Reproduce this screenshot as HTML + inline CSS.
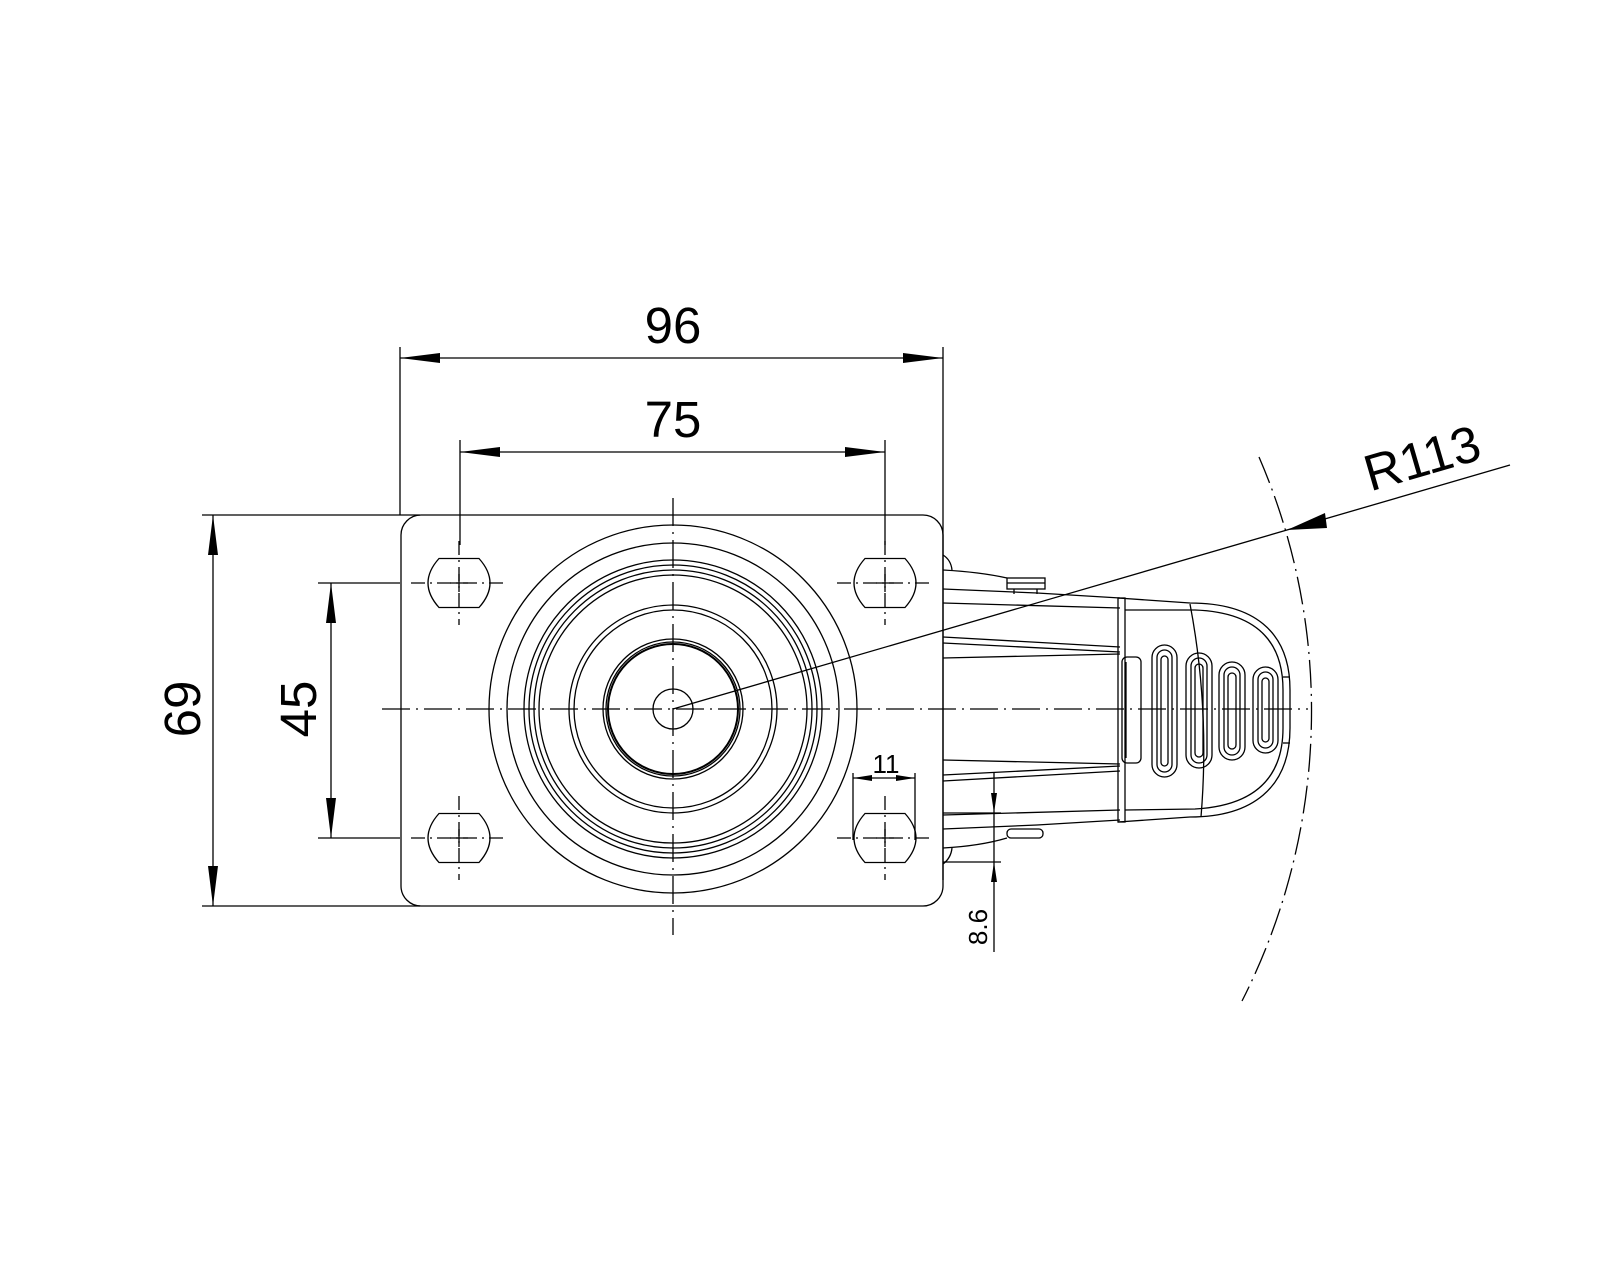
<!DOCTYPE html>
<html><head><meta charset="utf-8"><style>
html,body{margin:0;padding:0;background:#fff;}
svg{display:block;}
text{font-family:"Liberation Sans",sans-serif;fill:#000;}
</style></head><body>
<svg width="1600" height="1280" viewBox="0 0 1600 1280" xmlns="http://www.w3.org/2000/svg">
<defs>
<g id="hole">
<path d="M-20,-24.5 L20,-24.5 Q42,0 20,24.5 L-20,24.5 Q-42,0 -20,-24.5 Z" fill="none" stroke="#000" stroke-width="1.3"/>
<line x1="-48" y1="0" x2="48" y2="0" stroke="#000" stroke-width="1.3" stroke-dasharray="14,5,2,5"/>
<line x1="0" y1="-42" x2="0" y2="42" stroke="#000" stroke-width="1.3" stroke-dasharray="14,5,2,5"/>
<line x1="-9" y1="0" x2="9" y2="0" stroke="#000" stroke-width="1.3"/>
<line x1="0" y1="-9" x2="0" y2="9" stroke="#000" stroke-width="1.3"/>
</g>
</defs>
<g fill="none" stroke="#000" stroke-width="1.3">
<!-- plate -->
<rect x="401" y="515" width="542" height="391" rx="20" ry="20"/>
<!-- circles -->
<circle cx="673" cy="709" r="184"/>
<circle cx="673" cy="709" r="166"/>
<circle cx="673" cy="709" r="149"/>
<circle cx="673" cy="709" r="144"/>
<circle cx="673" cy="709" r="139"/>
<circle cx="673" cy="709" r="134"/>
<circle cx="673" cy="709" r="104"/>
<circle cx="673" cy="709" r="99"/>
<circle cx="673" cy="709" r="70"/>
<circle cx="673" cy="709" r="67"/>
<circle cx="673" cy="709" r="65" stroke-width="2"/>
<circle cx="673" cy="709" r="20"/>
<!-- center lines -->
<line x1="382" y1="709" x2="1308" y2="709" stroke-dasharray="28,6,2,6"/>
<line x1="673" y1="498" x2="673" y2="935" stroke-dasharray="28,6,2,6"/>
<!-- R113 arc -->
<path d="M1259,457 A640,640 0 0 1 1242,1001" stroke-dasharray="28,6,2,6"/>
<!-- radius leader -->
<line x1="673" y1="709" x2="1510" y2="465"/>
<!-- bracket -->
<line x1="943" y1="540" x2="943" y2="880"/>
<path d="M943,555 Q951,560 952,570"/>
<path d="M943,570 Q980,572 1007,578"/>
<rect x="1007" y="578" width="38" height="11"/>
<line x1="1007" y1="583" x2="1045" y2="583"/>
<line x1="1014" y1="589" x2="1014" y2="594"/>
<line x1="1037" y1="589" x2="1037" y2="594"/>
<path d="M943,589 L1037,593 L1120,598"/>
<line x1="943" y1="603" x2="1120" y2="608"/>
<line x1="943" y1="637" x2="1120" y2="647"/>
<line x1="943" y1="643" x2="1120" y2="652"/>
<line x1="943" y1="658" x2="1120" y2="654"/>
<line x1="943" y1="760" x2="1120" y2="764"/>
<line x1="943" y1="775" x2="1120" y2="766"/>
<line x1="943" y1="781" x2="1120" y2="771"/>
<line x1="943" y1="815" x2="1120" y2="810"/>
<path d="M943,829 L1037,825 L1120,820"/>
<path d="M943,848 Q980,846 1007,838"/>
<rect x="1007" y="829" width="36" height="9" rx="4"/>
<path d="M943,864 Q951,858 952,848"/>
<!-- band -->
<rect x="1118" y="598" width="7" height="224"/>
<rect x="1122" y="657" width="19" height="106" rx="5"/>
<line x1="1126" y1="662" x2="1126" y2="758"/>
<!-- nose -->
<path d="M1118,598 L1190,603 C1252,603 1290,630 1290,690 L1290,728 C1290,788 1252,817 1190,817 L1118,822"/>
<path d="M1125,610 L1195,610 C1250,612 1283,636 1283,690 L1283,728 C1283,782 1250,806 1195,809 L1125,810"/>
<path d="M1190,604 Q1210,709 1201,817"/>
<line x1="1283" y1="677" x2="1290" y2="677"/>
<line x1="1283" y1="743" x2="1290" y2="743"/>
<!-- slots -->
<rect x="1152" y="645" width="25" height="132" rx="12.5"/>
<rect x="1157" y="650" width="15" height="122" rx="7.5"/>
<rect x="1161" y="656" width="7" height="110" rx="3.5"/>
<rect x="1186" y="653" width="26" height="115" rx="13"/>
<rect x="1191" y="658" width="16" height="105" rx="8"/>
<rect x="1195" y="664" width="8" height="93" rx="4"/>
<rect x="1219" y="662" width="26" height="98" rx="13"/>
<rect x="1224" y="667" width="16" height="88" rx="8"/>
<rect x="1228" y="673" width="8" height="76" rx="4"/>
<rect x="1253" y="667" width="25" height="86" rx="12.5"/>
<rect x="1258" y="672" width="15" height="76" rx="7.5"/>
<rect x="1262" y="678" width="7" height="64" rx="3.5"/>
<!-- dimension lines -->
<line x1="400" y1="347" x2="400" y2="515"/>
<line x1="943" y1="347" x2="943" y2="540"/>
<line x1="400" y1="358" x2="943" y2="358"/>
<line x1="460" y1="440" x2="460" y2="545"/>
<line x1="885" y1="440" x2="885" y2="545"/>
<line x1="460" y1="452" x2="885" y2="452"/>
<line x1="202" y1="515" x2="420" y2="515"/>
<line x1="202" y1="906" x2="420" y2="906"/>
<line x1="213" y1="515" x2="213" y2="906"/>
<line x1="318" y1="583" x2="400" y2="583"/>
<line x1="318" y1="838" x2="400" y2="838"/>
<line x1="331" y1="583" x2="331" y2="838"/>
<line x1="853" y1="773" x2="853" y2="840"/>
<line x1="915" y1="773" x2="915" y2="840"/>
<line x1="853" y1="778" x2="915" y2="778"/>
<line x1="943" y1="813" x2="1001" y2="813"/>
<line x1="943" y1="862" x2="1001" y2="862"/>
<line x1="994" y1="773" x2="994" y2="952"/>
</g>
<use href="#hole" x="459" y="583"/>
<use href="#hole" x="885" y="583"/>
<use href="#hole" x="459" y="838"/>
<use href="#hole" x="885" y="838"/>
<g fill="#000">
<polygon points="400,358 440,353 440,363"/>
<polygon points="943,358 903,353 903,363"/>
<polygon points="460,452 500,447 500,457"/>
<polygon points="885,452 845,447 845,457"/>
<polygon points="213,515 208,555 218,555"/>
<polygon points="213,906 208,866 218,866"/>
<polygon points="331,583 326,623 336,623"/>
<polygon points="331,838 326,798 336,798"/>
<polygon points="853,778 872,775 872,781"/>
<polygon points="915,778 896,775 896,781"/>
<polygon points="994,813 991,793 997,793"/>
<polygon points="994,862 991,882 997,882"/>
<polygon points="1287,530 1325,513 1327,528"/>
</g>
<g>
<text x="673" y="343" font-size="51" text-anchor="middle">96</text>
<text x="673" y="437" font-size="51" text-anchor="middle">75</text>
<text transform="translate(200,709) rotate(-90)" x="0" y="0" font-size="51" text-anchor="middle">69</text>
<text transform="translate(316,709) rotate(-90)" x="0" y="0" font-size="51" text-anchor="middle">45</text>
<text x="886" y="773" font-size="26" text-anchor="middle">11</text>
<text transform="translate(987,927) rotate(-90)" x="0" y="0" font-size="26" text-anchor="middle">8.6</text>
<text transform="translate(1427,475) rotate(-16.2)" x="0" y="0" font-size="51" text-anchor="middle">R113</text>
</g>
</svg>
</body></html>
